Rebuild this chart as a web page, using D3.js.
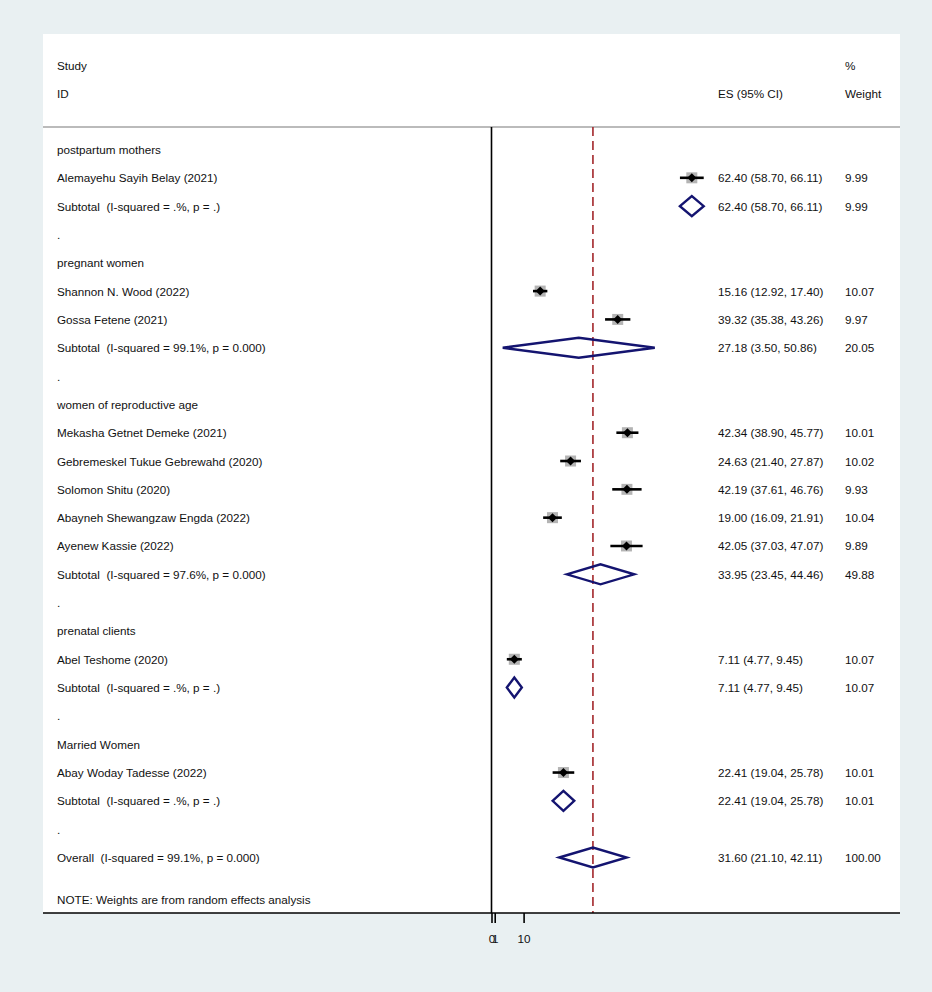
<!DOCTYPE html>
<html><head><meta charset="utf-8">
<script src="https://cdn.jsdelivr.net/npm/d3@7"></script>
<style>body{margin:0;background:#e9f0f2;} text{font-family:"Liberation Sans",Arial,sans-serif;font-size:11.7px;fill:#111;white-space:pre;}</style>
</head><body><svg id="c" width="932" height="992"></svg>
<script>
const rowLabels = ["postpartum mothers","Alemayehu Sayih Belay (2021)","Subtotal  (I-squared = .%, p = .)",".",
"pregnant women","Shannon N. Wood (2022)","Gossa Fetene (2021)","Subtotal  (I-squared = 99.1%, p = 0.000)",".",
"women of reproductive age","Mekasha Getnet Demeke (2021)","Gebremeskel Tukue Gebrewahd (2020)","Solomon Shitu (2020)","Abayneh Shewangzaw Engda (2022)","Ayenew Kassie (2022)","Subtotal  (I-squared = 97.6%, p = 0.000)",".",
"prenatal clients","Abel Teshome (2020)","Subtotal  (I-squared = .%, p = .)",".",
"Married Women","Abay Woday Tadesse (2022)","Subtotal  (I-squared = .%, p = .)",".",
"Overall  (I-squared = 99.1%, p = 0.000)"];
const rowTypes = ["h","s","d","b","h","s","s","d","b","h","s","s","s","s","s","d","b","h","s","d","b","h","s","d","b","d"];
const esVals = [null,62.40,62.40,null,null,15.16,39.32,27.18,null,null,42.34,24.63,42.19,19.00,42.05,33.95,null,null,7.11,7.11,null,null,22.41,22.41,null,31.60];
const loVals = [null,58.70,58.70,null,null,12.92,35.38,3.50,null,null,38.90,21.40,37.61,16.09,37.03,23.45,null,null,4.77,4.77,null,null,19.04,19.04,null,21.10];
const hiVals = [null,66.11,66.11,null,null,17.40,43.26,50.86,null,null,45.77,27.87,46.76,21.91,47.07,44.46,null,null,9.45,9.45,null,null,25.78,25.78,null,42.11];
const weights = [null,9.99,9.99,null,null,10.07,9.97,20.05,null,null,10.01,10.02,9.93,10.04,9.89,49.88,null,null,10.07,10.07,null,null,10.01,10.01,null,100.00];
const overallES = 31.60;
const xTicks = [0,1,10];
const headerTop = ["Study","%"];
const headerBottom = ["ID","ES (95% CI)","Weight"];
const noteText = "NOTE: Weights are from random effects analysis";

const svg = d3.select("#c");
const x = d3.scaleLinear().domain([0,10]).range([491.5,523.6]);
const y = d3.scaleLinear().domain([0,25]).range([149.5,857.5]);
const L=43,R=900,T=34,B=913, sepY=127;
const navy="#141470", red="#a3262b";
const esX=718, wX=845, labX=57;

svg.append("rect").attr("x",L).attr("y",T).attr("width",R-L).attr("height",B-T).attr("fill","#fff");
svg.append("line").attr("x1",L).attr("x2",R).attr("y1",sepY).attr("y2",sepY).attr("stroke","#bbb").attr("stroke-width",2);

// header
svg.append("text").attr("x",labX).attr("y",69.5).text(headerTop[0]);
svg.append("text").attr("x",wX).attr("y",69.5).text(headerTop[1]);
svg.append("text").attr("x",labX).attr("y",97.5).text(headerBottom[0]);
svg.append("text").attr("x",esX).attr("y",97.5).text(headerBottom[1]);
svg.append("text").attr("x",wX).attr("y",97.5).text(headerBottom[2]);

// null line and overall line
svg.append("line").attr("x1",x(0)).attr("x2",x(0)).attr("y1",sepY).attr("y2",B).attr("stroke","#000").attr("stroke-width",1.6);
svg.append("line").attr("x1",x(overallES)).attr("x2",x(overallES)).attr("y1",sepY).attr("y2",B).attr("stroke",red).attr("stroke-width",1.6).attr("stroke-dasharray","9,5");

const rows = rowLabels.map((l,i)=>({l,i,t:rowTypes[i],es:esVals[i],lo:loVals[i],hi:hiVals[i],w:weights[i]}));
const g = svg.append("g");
g.selectAll("text.lab").data(rows).join("text").attr("class","lab").attr("x",labX).attr("y",d=>y(d.i)+4.5).text(d=>d.l);
const withEs = rows.filter(d=>d.es!=null);
g.selectAll("text.es").data(withEs).join("text").attr("x",esX).attr("y",d=>y(d.i)+4.5)
  .text(d=>`${d.es.toFixed(2)} (${d.lo.toFixed(2)}, ${d.hi.toFixed(2)})`);
g.selectAll("text.w").data(withEs).join("text").attr("x",wX).attr("y",d=>y(d.i)+4.5).text(d=>d.w.toFixed(2));

const studies = rows.filter(d=>d.t==="s");
g.selectAll("rect.sq").data(studies).join("rect").attr("fill","#b4b4b4")
 .attr("x",d=>x(d.es)-5.5*Math.sqrt(d.w/10)).attr("y",d=>y(d.i)-5.5*Math.sqrt(d.w/10))
 .attr("width",d=>11*Math.sqrt(d.w/10)).attr("height",d=>11*Math.sqrt(d.w/10));
g.selectAll("line.ci").data(studies).join("line").attr("stroke","#000").attr("stroke-width",2.6)
 .attr("x1",d=>x(d.lo)).attr("x2",d=>x(d.hi)).attr("y1",d=>y(d.i)).attr("y2",d=>y(d.i));
g.selectAll("path.pt").data(studies).join("path").attr("fill","#000")
 .attr("d",d=>{const cx=x(d.es),cy=y(d.i),r=4.5;return `M${cx-r},${cy}L${cx},${cy-r}L${cx+r},${cy}L${cx},${cy+r}Z`;});

const diams = rows.filter(d=>d.t==="d");
g.selectAll("path.dm").data(diams).join("path").attr("fill","none").attr("stroke",navy).attr("stroke-width",2.4)
 .attr("d",d=>{const cy=y(d.i),h=10;return `M${x(d.lo)},${cy}L${x(d.es)},${cy-h}L${x(d.hi)},${cy}L${x(d.es)},${cy+h}Z`;});

svg.append("text").attr("x",labX).attr("y",903.5).text(noteText);

// axis
const ax = svg.append("g").attr("transform",`translate(0,${B})`).call(d3.axisBottom(x).tickValues(xTicks).tickFormat(d3.format("d")).tickSize(10).tickPadding(12));
ax.select(".domain").attr("d",`M${L},0H${R}`).attr("stroke","#000").attr("stroke-width",1.6);
ax.selectAll(".tick line").attr("stroke","#000").attr("stroke-width",1.6);
ax.selectAll(".tick text").attr("fill","#111").style("font-size","11.7px").style("font-family","Liberation Sans, Arial, sans-serif");
</script></body></html>
